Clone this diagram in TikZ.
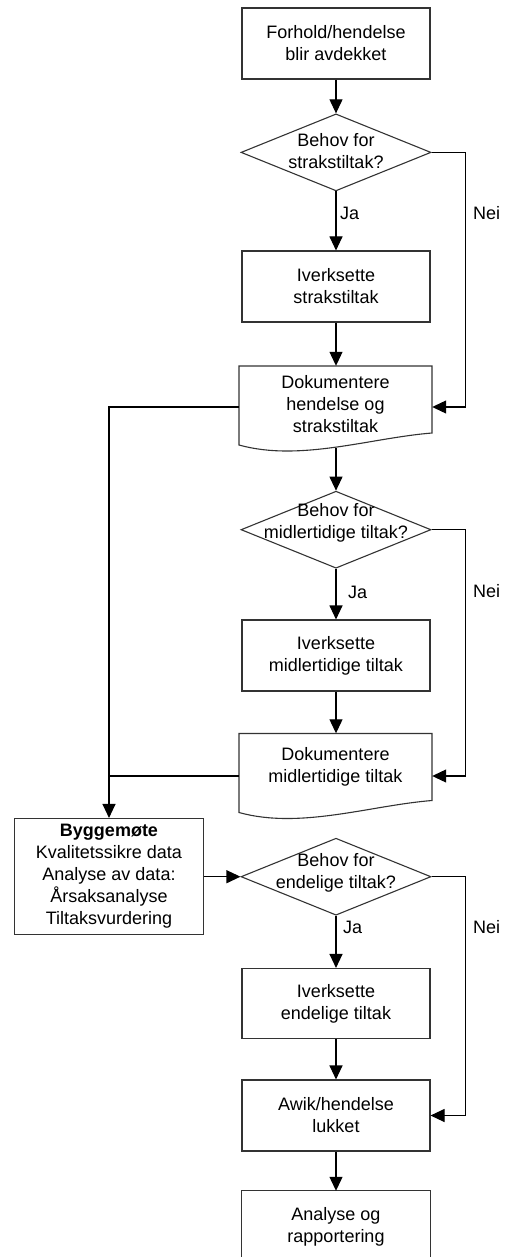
\documentclass[tikz,border=0pt]{standalone}
\usepackage{fontspec}
\setmainfont{Liberation Sans}
\usetikzlibrary{shapes.geometric,arrows.meta}
\begin{document}
\begin{tikzpicture}[x=1pt,y=-1pt,
  lin/.style={line width=1.1pt,draw=black!80},
  conn/.style={line width=1.1pt,draw=black},
  arr/.style={conn,-{Triangle[length=14pt,width=13pt]}},
  txt/.style={font=\fontsize{18}{22}\selectfont,align=center,inner sep=0pt,text=black},
  box/.style={txt,lin,rectangle,minimum width=188pt,minimum height=71pt},
  dia/.style={lin,diamond,minimum width=190pt,minimum height=77pt,inner sep=0pt},
  docshape/.style={rectangle,minimum width=193pt,inner sep=0pt},
  lbl/.style={font=\fontsize{18}{22}\selectfont,inner sep=0pt,anchor=west}
]
\useasboundingbox (0,0) rectangle (507,1257);
\fill[white] (0,0) rectangle (507,1257);

% boxes
\node[box] (b1) at (336,43.5) {Forhold/hendelse\\blir avdekket};
\node[dia] (d1) at (336,152.4) {};
\node[txt] (d1t) at (336,151) {Behov for\\strakstiltak?};
\node[box] (b2) at (336,286.5) {Iverksette\\strakstiltak};

\node[docshape,minimum height=82pt] (doc1) at (335.5,407) {};
\draw[lin] (239,366) -- (432,366) -- (432,433) .. controls (370,438) and (300,462) .. (239,445) -- cycle;
\node[txt] (doc1t) at (335.5,404) {Dokumentere\\hendelse og\\strakstiltak};

\node[dia] (d2) at (336,529.7) {};
\node[txt] (d2t) at (336,523) {Behov for\\midlertidige tiltak?};
\node[box] (b3) at (336,655.5) {Iverksette\\midlertidige tiltak};

\node[docshape,minimum height=85pt] (doc2) at (335.5,776) {};
\draw[lin] (239,733.5) -- (432,733.5) -- (432,800.5) .. controls (370,805.5) and (300,829.5) .. (239,812.5) -- cycle;
\node[txt] (doc2t) at (335.5,767) {Dokumentere\\midlertidige tiltak};

\node[box,minimum width=188.6pt,minimum height=116pt] (byg) at (109,876.5)
  {\textbf{Byggemøte}\\Kvalitetssikre data\\Analyse av data:\\Årsaksanalyse\\Tiltaksvurdering};

\node[dia] (d3) at (336,876.7) {};
\node[txt] (d3t) at (336,873) {Behov for\\endelige tiltak?};
\node[box,minimum height=70pt] (b4) at (336,1003.5) {Iverksette\\endelige tiltak};
\node[box] (b5) at (336,1115.5) {Awik/hendelse\\lukket};
\node[txt,minimum width=188pt,minimum height=71pt] (b6) at (336,1226.5) {Analyse og\\rapportering};
\draw[lin] (b6.south west) -- (b6.north west) -- (b6.north east) -- (b6.south east);

% connectors
\draw[arr] (b1) -- (d1);
\draw[arr] (d1) -- (b2);
\draw[arr] (b2) -- (doc1.north -| b2.south);
\draw[arr] (d1.east) -- ++(34,0) |- (doc1.east);
\draw[arr] (doc1.west) -| (byg.north);

\draw[arr] (doc1.south -| d2.north) -- (d2.north);
\draw[arr] (d2) -- (b3);
\draw[arr] (b3) -- (doc2.north -| b3.south);
\draw[arr] (d2.east) -- ++(34,0) |- (doc2.east);
\draw[conn] (doc2.west) -- (doc2.west -| byg.north);

\draw[arr] (byg.east |- d3.west) -- (d3.west);
\draw[arr] (d3) -- (b4);
\draw[arr] (b4) -- (b5);
\draw[arr] (d3.east) -- ++(34,0) |- (b5.east);
\draw[arr] (b5) -- (b6.north);

% labels
\node[lbl] (ja1) at (340,213) {Ja};
\node[lbl] (nei1) at (473,213) {Nei};
\node[lbl] (ja2) at (348,592) {Ja};
\node[lbl] (nei2) at (473,591) {Nei};
\node[lbl] (ja3) at (343,927) {Ja};
\node[lbl] (nei3) at (473,927) {Nei};
\end{tikzpicture}
\end{document}
